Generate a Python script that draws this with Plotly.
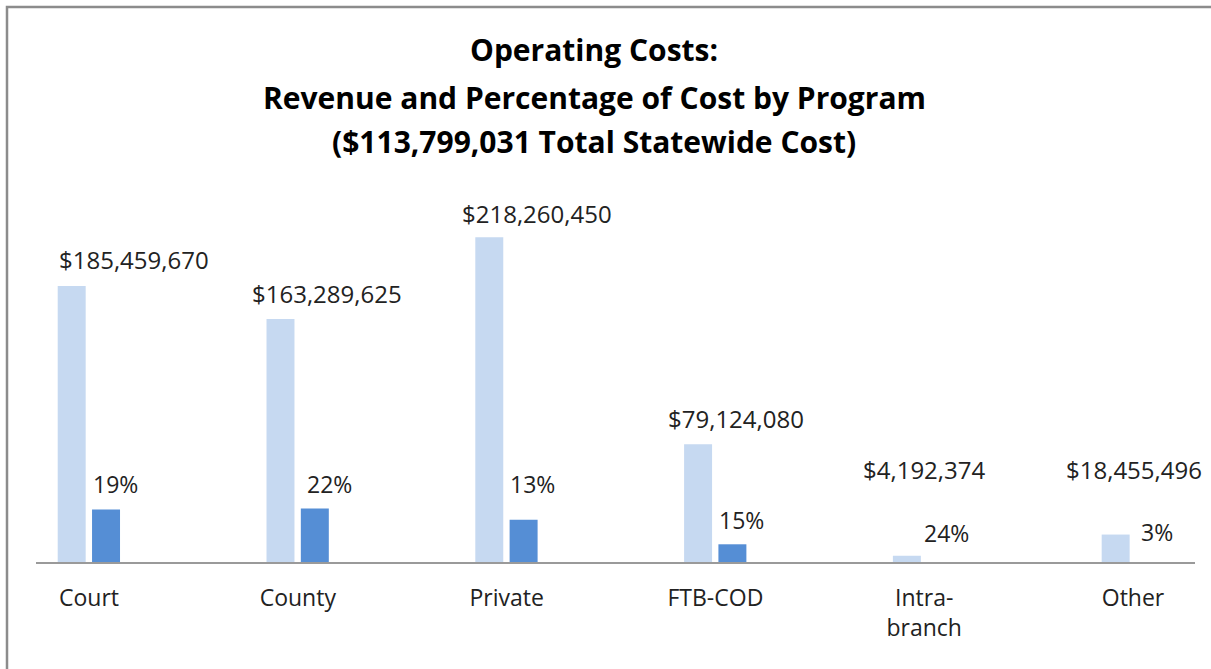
import plotly.graph_objects as go

categories = ["Court", "County", "Private", "FTB-COD", "Intra-<br>branch", "Other"]
revenue = [185459670, 163289625, 218260450, 79124080, 4192374, 18455496]
cost = [35200000, 35900000, 28400000, 11900000, 0, 0]
revenue_labels = ["$185,459,670", "$163,289,625", "$218,260,450", "$79,124,080", "$4,192,374", "$18,455,496"]
pct_labels = ["19%", "22%", "13%", "15%", "24%", "3%"]
title_lines = ["Operating Costs:", "Revenue and Percentage of Cost by Program", "($113,799,031 Total Statewide Cost)"]

# label placement (style, px offsets from each bar's top centre)
rev_dx = [62, 47, 48, 38, 17, 18]
rev_dy = [27, 26, 24, 26, 86, 65]
pct_dx = [10, 15, 9, 9, 5, 7]
pct_dy = [26, 25, 36, 24, 29, 30]

FONT = "Open Sans"
W, H = 1211, 669
L, R, T, B = 36, 16, 190, 107
PW, PH = W - L - R, H - T - B
x = list(range(len(categories)))

fig = go.Figure()
fig.add_trace(go.Bar(x=x, y=revenue, marker=dict(color="#C6D9F1", line=dict(width=0)),
                     width=0.134, offset=-0.15, name="Revenue", hoverinfo="skip"))
fig.add_trace(go.Bar(x=x, y=cost, marker=dict(color="#558ED5", line=dict(width=0)),
                     width=0.134, offset=0.0144, name="Cost", hoverinfo="skip"))

ann = []
for i in x:
    ann.append(dict(x=i - 0.083, y=revenue[i], xref="x", yref="y", text=revenue_labels[i],
                    showarrow=False, xshift=rev_dx[i], yshift=rev_dy[i],
                    font=dict(family=FONT, size=24, color="#222222")))
    ann.append(dict(x=i + 0.081, y=cost[i], xref="x", yref="y", text=pct_labels[i],
                    showarrow=False, xshift=pct_dx[i], yshift=pct_dy[i],
                    font=dict(family=FONT, size=23, color="#222222")))
for t, py in zip(title_lines, [50, 97, 142]):
    ann.append(dict(x=(594 - L) / PW, y=(H - B - py) / PH, xref="paper", yref="paper",
                    text="<b>%s</b>" % t, showarrow=False, xanchor="center", yanchor="middle",
                    font=dict(family=FONT, size=30, color="#000000")))

fig.update_layout(
    width=W, height=H,
    margin=dict(l=L, r=R, t=T, b=B),
    paper_bgcolor="white", plot_bgcolor="white",
    showlegend=False,
    barmode="overlay",
    annotations=ann,
    xaxis=dict(range=[-0.254, 5.297], tickmode="array", tickvals=x, ticktext=categories,
               showgrid=False, zeroline=False, showline=True, linecolor="#9a9a9a", linewidth=2,
               ticks="outside", ticklen=14, tickcolor="rgba(0,0,0,0)",
               tickfont=dict(family=FONT, size=23, color="#222222")),
    yaxis=dict(range=[0, 250000000], visible=False, showgrid=False, zeroline=False),
    shapes=[dict(type="rect", xref="paper", yref="paper",
                 x0=(7 - L) / PW, x1=(1240 - L) / PW,
                 y0=(H - B - 700) / PH, y1=(H - B - 7) / PH,
                 line=dict(color="#8c8c8c", width=2.5), fillcolor="rgba(0,0,0,0)", layer="below")],
)

fig.write_html("out.html", config={"displayModeBar": False},
               post_script="document.body.style.margin='0';document.body.style.overflow='hidden';")
